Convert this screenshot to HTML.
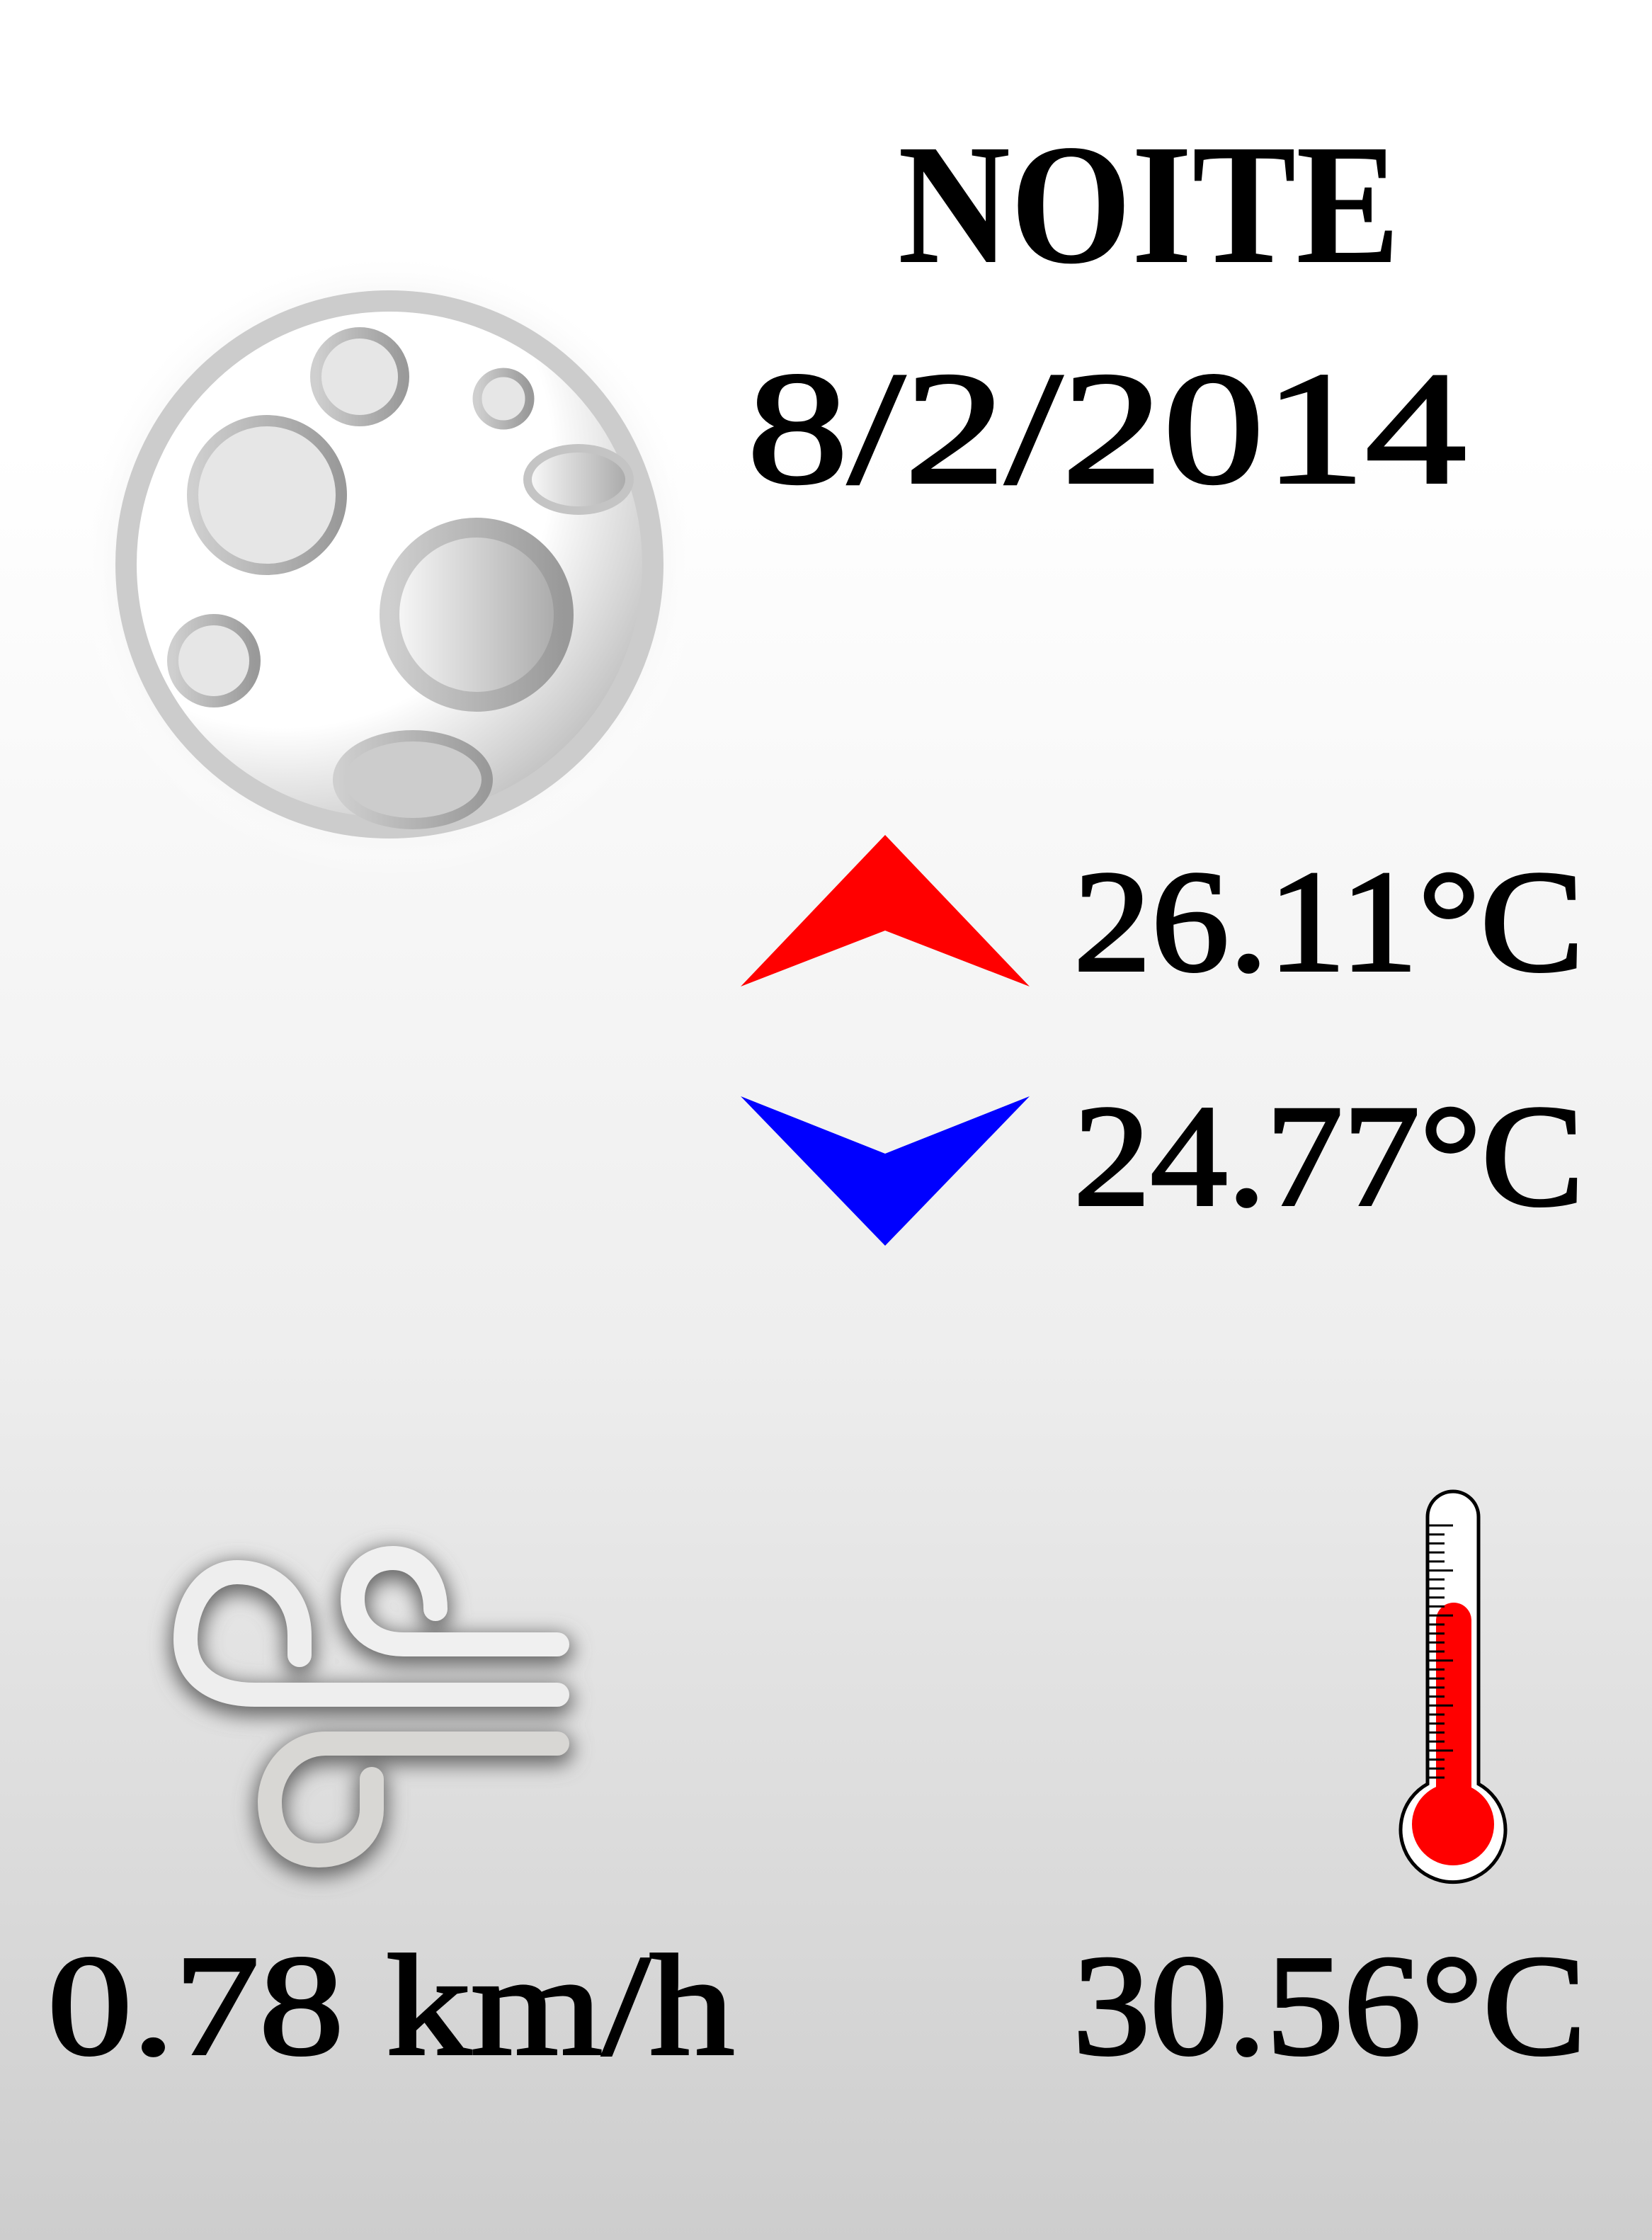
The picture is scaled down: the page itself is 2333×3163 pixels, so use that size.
<!DOCTYPE html>
<html><head><meta charset="utf-8"><style>html,body{margin:0;padding:0;width:2333px;height:3163px;overflow:hidden}svg{display:block}text{font-family:"Liberation Serif",serif;fill:#000}.b{font-weight:bold}.m{stroke:#000;stroke-width:4}</style></head>
<body>
<svg width="2333" height="3163" viewBox="0 0 2333 3163">
<defs>
<linearGradient id="bg" x1="0" y1="0" x2="0" y2="1"><stop offset="0" stop-color="#fff"/><stop offset="0.2" stop-color="#fff"/><stop offset="0.6" stop-color="#eeeeee"/><stop offset="1" stop-color="#cdcdcd"/></linearGradient>
<radialGradient id="moonfill" cx="0.3" cy="0.3" r="0.85"><stop offset="0.6" stop-color="#fff"/><stop offset="1" stop-color="#b0b0b0"/></radialGradient>
<radialGradient id="glow" cx="0.5" cy="0.5" r="0.5"><stop offset="0.85" stop-color="#f6f6f6"/><stop offset="1" stop-color="#fff" stop-opacity="0"/></radialGradient>
<linearGradient id="crs" x1="0" x2="1"><stop offset="0" stop-color="#cfcfcf"/><stop offset="1" stop-color="#999"/></linearGradient>
<linearGradient id="crf" x1="0" x2="1"><stop offset="0" stop-color="#fafafa"/><stop offset="1" stop-color="#a8a8a8"/></linearGradient>
<filter id="sh" x="-20%" y="-20%" width="140%" height="140%"><feGaussianBlur stdDeviation="14"/></filter>
</defs>
<rect width="2333" height="3163" fill="url(#bg)"/>
<text class="b" x="1268" y="370" font-size="243" textLength="709" lengthAdjust="spacingAndGlyphs">NOITE</text>
<text class="m" x="1055" y="681" font-size="227" textLength="1016" lengthAdjust="spacingAndGlyphs">8/2/2014</text>
<g>
<circle cx="550" cy="797" r="440" fill="url(#glow)"/>
<circle cx="550" cy="797" r="372" fill="url(#moonfill)" stroke="#cccccc" stroke-width="30"/>
<circle cx="508" cy="532" r="62" fill="#e6e6e6" stroke="url(#crs)" stroke-width="16"/>
<circle cx="711" cy="563" r="37" fill="#e6e6e6" stroke="url(#crs)" stroke-width="13"/>
<circle cx="377" cy="699" r="105" fill="#e6e6e6" stroke="url(#crs)" stroke-width="16"/>
<ellipse cx="817" cy="677" rx="72" ry="44" fill="url(#crf)" stroke="#c4c4c4" stroke-width="12"/>
<circle cx="673" cy="868" r="123" fill="url(#crf)" stroke="url(#crs)" stroke-width="28"/>
<circle cx="302" cy="933" r="58" fill="#e6e6e6" stroke="url(#crs)" stroke-width="16"/>
<ellipse cx="583" cy="1101" rx="105" ry="62" fill="#cccccc" stroke="url(#crs)" stroke-width="16"/>
</g>
<polygon points="1250,1179 1454,1393 1250,1314 1046,1393" fill="#ff0000"/>
<text class="m" x="1516" y="1370" font-size="205" textLength="721" lengthAdjust="spacingAndGlyphs">26.11°C</text>
<polygon points="1046,1548 1250,1629 1454,1548 1250,1759" fill="#0000ff"/>
<text class="m" x="1516" y="1701" font-size="205" textLength="721" lengthAdjust="spacingAndGlyphs">24.77°C</text>
<g fill="none" stroke-linecap="round" stroke-width="34">
<g stroke="#666" filter="url(#sh)" transform="translate(0,8)" stroke-width="44">
<path d="M423,2337 L423,2310 C423,2255 385,2220 335,2220 C290,2220 262,2265 262,2315 C262,2365 300,2393 360,2393 L787,2393"/>
<path d="M615,2272 C615,2230 590,2200 555,2200 C520,2200 498,2225 498,2258 C498,2295 525,2322 570,2322 L787,2322"/>
<path d="M787,2462 L460,2462 C415,2462 381,2500 381,2545 C381,2592 410,2620 450,2620 C495,2620 525,2590 525,2555 L525,2512"/>
</g>
<path stroke="#eeeeee" d="M423,2337 L423,2310 C423,2255 385,2220 335,2220 C290,2220 262,2265 262,2315 C262,2365 300,2393 360,2393 L787,2393"/>
<path stroke="#f0f0f0" d="M615,2272 C615,2230 590,2200 555,2200 C520,2200 498,2225 498,2258 C498,2295 525,2322 570,2322 L787,2322"/>
<path stroke="#d8d7d4" d="M787,2462 L460,2462 C415,2462 381,2500 381,2545 C381,2592 410,2620 450,2620 C495,2620 525,2590 525,2555 L525,2512"/>
</g>
<g>
<path d="M2016,2519 L2016,2142 A36,36 0 0 1 2088,2142 L2088,2519 A74,74 0 1 1 2016,2519 Z" fill="#fff" stroke="#000" stroke-width="5"/>
<rect x="2028" y="2263" width="50" height="280" rx="25" fill="#ff0000"/>
<rect x="2028" y="2290" width="50" height="260" fill="#ff0000"/>
<circle cx="2052" cy="2576" r="58" fill="#ff0000"/>
<g stroke="#000" stroke-width="3" id="ticks"></g>
</g>
<text class="m" x="67" y="2900" font-size="203" textLength="970" lengthAdjust="spacingAndGlyphs">0.78 km/h</text>
<text class="m" x="1515" y="2900" font-size="203" textLength="725" lengthAdjust="spacingAndGlyphs">30.56°C</text>
</svg>
<script>
const tickCount = [29];
const g = document.getElementById('ticks');
for (let i = 0; i < tickCount[0]; i++) {
  const y = 2154 + i * (356 / 28);
  const l = document.createElementNS('http://www.w3.org/2000/svg', 'line');
  l.setAttribute('x1', 2018);
  l.setAttribute('x2', i % 5 === 0 ? 2052 : 2040);
  l.setAttribute('y1', y);
  l.setAttribute('y2', y);
  
  
  g.appendChild(l);
}
</script>
</body></html>
